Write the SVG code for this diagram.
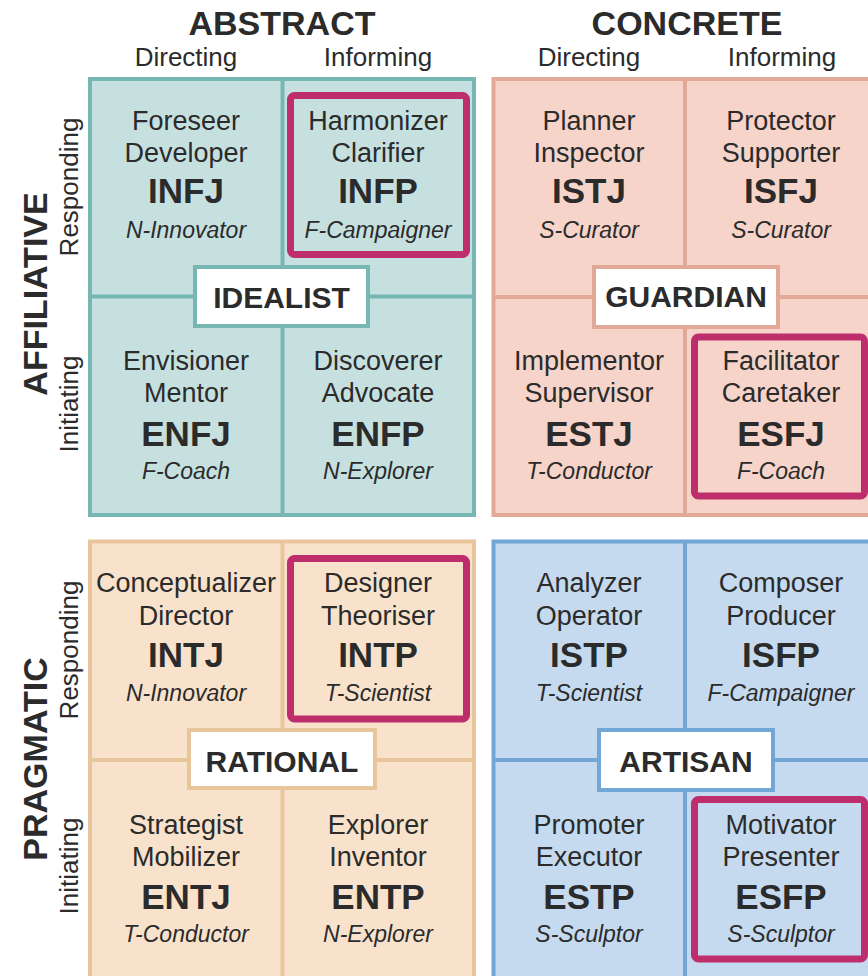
<svg xmlns="http://www.w3.org/2000/svg" width="868" height="976" viewBox="0 0 868 976">
<style>
text{font-family:"Liberation Sans",Arial,sans-serif;fill:#2b2b2b;text-anchor:middle}
.h1{font-size:34px;font-weight:bold}
.h2{font-size:26px}
.side{font-size:34px;font-weight:bold}
.nm{font-size:27px}
.cd{font-size:35px;font-weight:bold}
.it{font-size:23px;font-style:italic}
.lb{font-size:30px;font-weight:bold}
.hl{fill:none;stroke:#bf2e6c;stroke-width:7}
.box{fill:#ffffff;stroke-width:4}
.teal{fill:#c6e0e0;stroke:#76b7b4}
.sal{fill:#f6d4ca;stroke:#e2a998}
.tan{fill:#f8e2cc;stroke:#e9c59c}
.blu{fill:#c5daee;stroke:#72a6d6}
.div{stroke-width:4;fill:none}
</style>
<rect width="868" height="976" fill="#ffffff"/>
<g id="headers">
<text class="h1" x="282" y="35">ABSTRACT</text>
<text class="h2" x="186" y="66">Directing</text>
<text class="h2" x="378" y="66">Informing</text>
<text class="h1" x="687" y="35">CONCRETE</text>
<text class="h2" x="589" y="66">Directing</text>
<text class="h2" x="782" y="66">Informing</text>
</g>
<g id="side-labels">
<text class="side" transform="translate(47,294) rotate(-90)">AFFILIATIVE</text>
<text class="h2" transform="translate(78,187) rotate(-90)">Responding</text>
<text class="h2" transform="translate(78,404) rotate(-90)">Initiating</text>
<text class="side" transform="translate(47,759) rotate(-90)">PRAGMATIC</text>
<text class="h2" transform="translate(78,650) rotate(-90)">Responding</text>
<text class="h2" transform="translate(78,866) rotate(-90)">Initiating</text>
</g>
<g id="quadrants">
<rect class="teal" x="90" y="79" width="384" height="436" stroke-width="4"/>
<path class="div" stroke="#76b7b4" d="M282.5 79V515M90 296.5H474"/>
<rect class="sal" x="493.5" y="79" width="400" height="436" stroke-width="4"/>
<path class="div" stroke="#e2a998" d="M685 79V515M493.5 297H880"/>
<rect class="tan" x="90" y="541.5" width="384" height="450" stroke-width="4"/>
<path class="div" stroke="#e9c59c" d="M282.5 541.5V990M90 760H474"/>
<rect class="blu" x="493.5" y="541.5" width="400" height="450" stroke-width="4"/>
<path class="div" stroke="#72a6d6" d="M685 541.5V990M493.5 760H880"/>
</g>
<g id="INFJ"><text class="nm" x="186" y="130">Foreseer</text><text class="nm" x="186" y="162">Developer</text><text class="cd" x="186" y="203">INFJ</text><text class="it" x="186" y="238">N-Innovator</text></g>
<g id="INFP"><rect class="hl" x="290.5" y="95.5" width="176" height="159" rx="4"/><text class="nm" x="378" y="130">Harmonizer</text><text class="nm" x="378" y="162">Clarifier</text><text class="cd" x="378" y="203">INFP</text><text class="it" x="378" y="238">F-Campaigner</text></g>
<g id="ENFJ"><text class="nm" x="186" y="370">Envisioner</text><text class="nm" x="186" y="402">Mentor</text><text class="cd" x="186" y="446">ENFJ</text><text class="it" x="186" y="479">F-Coach</text></g>
<g id="ENFP"><text class="nm" x="378" y="370">Discoverer</text><text class="nm" x="378" y="402">Advocate</text><text class="cd" x="378" y="446">ENFP</text><text class="it" x="378" y="479">N-Explorer</text></g>
<g id="ISTJ"><text class="nm" x="589" y="130">Planner</text><text class="nm" x="589" y="162">Inspector</text><text class="cd" x="589" y="203">ISTJ</text><text class="it" x="589" y="238">S-Curator</text></g>
<g id="ISFJ"><text class="nm" x="781" y="130">Protector</text><text class="nm" x="781" y="162">Supporter</text><text class="cd" x="781" y="203">ISFJ</text><text class="it" x="781" y="238">S-Curator</text></g>
<g id="ESTJ"><text class="nm" x="589" y="370">Implementor</text><text class="nm" x="589" y="402">Supervisor</text><text class="cd" x="589" y="446">ESTJ</text><text class="it" x="589" y="479">T-Conductor</text></g>
<g id="ESFJ"><rect class="hl" x="694.5" y="337" width="170" height="159" rx="4"/><text class="nm" x="781" y="370">Facilitator</text><text class="nm" x="781" y="402">Caretaker</text><text class="cd" x="781" y="446">ESFJ</text><text class="it" x="781" y="479">F-Coach</text></g>
<g id="INTJ"><text class="nm" x="186" y="592">Conceptualizer</text><text class="nm" x="186" y="625">Director</text><text class="cd" x="186" y="667">INTJ</text><text class="it" x="186" y="701">N-Innovator</text></g>
<g id="INTP"><rect class="hl" x="290.5" y="558.5" width="176" height="160.5" rx="4"/><text class="nm" x="378" y="592">Designer</text><text class="nm" x="378" y="625">Theoriser</text><text class="cd" x="378" y="667">INTP</text><text class="it" x="378" y="701">T-Scientist</text></g>
<g id="ENTJ"><text class="nm" x="186" y="834">Strategist</text><text class="nm" x="186" y="866">Mobilizer</text><text class="cd" x="186" y="909">ENTJ</text><text class="it" x="186" y="942">T-Conductor</text></g>
<g id="ENTP"><text class="nm" x="378" y="834">Explorer</text><text class="nm" x="378" y="866">Inventor</text><text class="cd" x="378" y="909">ENTP</text><text class="it" x="378" y="942">N-Explorer</text></g>
<g id="ISTP"><text class="nm" x="589" y="592">Analyzer</text><text class="nm" x="589" y="625">Operator</text><text class="cd" x="589" y="667">ISTP</text><text class="it" x="589" y="701">T-Scientist</text></g>
<g id="ISFP"><text class="nm" x="781" y="592">Composer</text><text class="nm" x="781" y="625">Producer</text><text class="cd" x="781" y="667">ISFP</text><text class="it" x="781" y="701">F-Campaigner</text></g>
<g id="ESTP"><text class="nm" x="589" y="834">Promoter</text><text class="nm" x="589" y="866">Executor</text><text class="cd" x="589" y="909">ESTP</text><text class="it" x="589" y="942">S-Sculptor</text></g>
<g id="ESFP"><rect class="hl" x="694.5" y="799.5" width="170" height="159.5" rx="4"/><text class="nm" x="781" y="834">Motivator</text><text class="nm" x="781" y="866">Presenter</text><text class="cd" x="781" y="909">ESFP</text><text class="it" x="781" y="942">S-Sculptor</text></g>
<g id="IDEALIST"><rect class="box" stroke="#76b7b4" x="195" y="267" width="173" height="59"/><text class="lb" x="281.5" y="308">IDEALIST</text></g>
<g id="GUARDIAN"><rect class="box" stroke="#e2a998" x="594" y="267" width="184" height="60"/><text class="lb" x="686" y="307">GUARDIAN</text></g>
<g id="RATIONAL"><rect class="box" stroke="#e9c59c" x="189" y="730" width="186" height="58"/><text class="lb" x="282" y="772">RATIONAL</text></g>
<g id="ARTISAN"><rect class="box" stroke="#72a6d6" x="599" y="730" width="174" height="60"/><text class="lb" x="686" y="772">ARTISAN</text></g>
</svg>
